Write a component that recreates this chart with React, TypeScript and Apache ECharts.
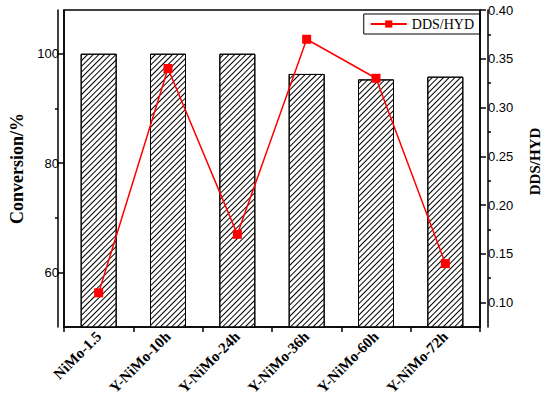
import React, { useEffect, useRef } from "react";
import * as echarts from "echarts";

const categories = ["NiMo-1.5", "Y-NiMo-10h", "Y-NiMo-24h", "Y-NiMo-36h", "Y-NiMo-60h", "Y-NiMo-72h"];
const conversion = [100, 100, 100, 96.3, 95.3, 95.8];
const ddsHyd = [0.11, 0.34, 0.17, 0.37, 0.33, 0.14];
const leftTicks = [60, 80, 100];
const leftMinorTicks = [70, 90];
const rightTicks = [0.1, 0.15, 0.2, 0.25, 0.3, 0.35, 0.4];
const rightMinorTicks = [0.125, 0.175, 0.225, 0.275, 0.325, 0.375];

export default function App() {
  const ref = useRef<HTMLDivElement>(null);
  useEffect(() => {
    if (!ref.current) return;
    const chart = echarts.init(ref.current, undefined, { renderer: "svg" });
    const serif = "Liberation Serif, Times New Roman, serif";
    const sans = "Liberation Sans, Arial, sans-serif";
    const gridPos = { left: 58, right: 62, top: 10, bottom: 72 };
    chart.setOption({
      animation: false,
      backgroundColor: "#fff",
      grid: [
        {
          ...gridPos,
          show: true,
          borderColor: "#000",
          borderWidth: 1.5,
          backgroundColor: "transparent",
        },
        { ...gridPos, show: false },
      ],
      legend: {
        data: ["DDS/HYD"],
        right: 70,
        top: 14,
        borderColor: "#000",
        borderWidth: 1,
        padding: [3, 6, 3, 6],
        itemWidth: 36,
        itemHeight: 9,
        itemGap: 6,
        textStyle: { fontFamily: serif, fontSize: 14, color: "#000" },
      },
      xAxis: [
        {
          type: "category",
          gridIndex: 0,
          data: categories,
          axisLine: { show: true, lineStyle: { color: "#000", width: 1.5 } },
          axisTick: { show: true, length: 5, inside: false, lineStyle: { color: "#000", width: 1.5 } },
          axisLabel: {
            rotate: 45,
            interval: 0,
            fontFamily: serif,
            fontWeight: "bold",
            fontSize: 15,
            color: "#000",
            margin: 7,
          },
          splitLine: { show: false },
        },
        {
          type: "category",
          gridIndex: 1,
          data: categories,
          show: false,
        },
      ],
      yAxis: [
        {
          type: "value",
          gridIndex: 0,
          position: "left",
          min: 50,
          max: 108,
          name: "Conversion/%",
          nameLocation: "middle",
          nameRotate: 90,
          nameGap: 38,
          nameTextStyle: { fontFamily: serif, fontWeight: "bold", fontSize: 18, color: "#000" },
          axisLine: { show: true, lineStyle: { color: "#000", width: 1.5 } },
          axisTick: { show: true, length: 6, customValues: leftTicks, lineStyle: { color: "#000", width: 1.5 } },
          axisLabel: { customValues: leftTicks, fontFamily: sans, fontSize: 13, color: "#000", margin: 5 },
          splitLine: { show: false },
        },
        {
          type: "value",
          gridIndex: 0,
          position: "right",
          min: 0.075,
          max: 0.4,
          name: "DDS/HYD",
          nameLocation: "middle",
          nameRotate: 90,
          nameGap: 47,
          nameTextStyle: { fontFamily: serif, fontWeight: "bold", fontSize: 15, color: "#000", padding: [0, 0, 0, 14] },
          axisLine: { show: true, lineStyle: { color: "#000", width: 1.5 } },
          axisTick: { show: true, length: 6, customValues: rightTicks, lineStyle: { color: "#000", width: 1.5 } },
          axisLabel: {
            customValues: rightTicks,
            formatter: (v: number) => v.toFixed(2),
            fontFamily: sans,
            fontSize: 13,
            color: "#000",
            margin: 8,
          },
          splitLine: { show: false },
        },
        {
          type: "value",
          gridIndex: 1,
          position: "left",
          min: 50,
          max: 108,
          axisLine: { show: true, lineStyle: { color: "#000", width: 1.5 } },
          axisTick: { show: true, length: 3, customValues: leftMinorTicks, lineStyle: { color: "#000", width: 1.5 } },
          axisLabel: { show: false },
          splitLine: { show: false },
        },
        {
          type: "value",
          gridIndex: 1,
          position: "right",
          min: 0.075,
          max: 0.4,
          axisLine: { show: true, lineStyle: { color: "#000", width: 1.5 } },
          axisTick: { show: true, length: 3, customValues: rightMinorTicks, lineStyle: { color: "#000", width: 1.5 } },
          axisLabel: { show: false },
          splitLine: { show: false },
        },
      ],
      series: [
        {
          name: "Conversion",
          type: "bar",
          xAxisIndex: 0,
          yAxisIndex: 0,
          data: conversion,
          barWidth: 36,
          itemStyle: {
            color: "#fff",
            borderColor: "#000",
            borderWidth: 1,
            decal: {
              symbol: "rect",
              symbolSize: 1,
              dashArrayX: [1, 0],
              dashArrayY: [1, 3],
              rotation: -Math.PI / 4,
              color: "#000",
              backgroundColor: "#fff",
            },
          },
        },
        {
          name: "DDS/HYD",
          type: "line",
          xAxisIndex: 0,
          yAxisIndex: 1,
          data: ddsHyd,
          symbol: "rect",
          symbolSize: 9,
          lineStyle: { color: "#ff0000", width: 1.5 },
          itemStyle: { color: "#ff0000" },
        },
      ],
    });
    return () => chart.dispose();
  }, []);
  return <div ref={ref} style={{ width: 550, height: 399, position: "absolute", left: 0, top: 0 }} />;
}
